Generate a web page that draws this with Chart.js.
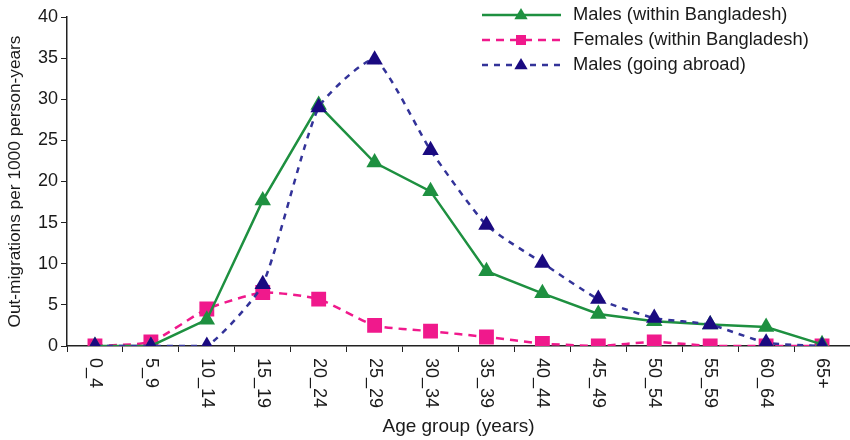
<!DOCTYPE html>
<html>
<head>
<meta charset="utf-8">
<script src="https://cdn.jsdelivr.net/npm/chart.js@4/dist/chart.umd.min.js"></script>
<style>
  html, body { margin: 0; padding: 0; background: #fff; }
  #wrap { width: 850px; height: 440px; }
</style>
</head>
<body>
<div id="wrap"><canvas id="c" width="850" height="440"></canvas></div>
<script>
const categories = ['0_4','5_9','10_14','15_19','20_24','25_29','30_34','35_39','40_44','45_49','50_54','55_59','60_64','65+'];
const malesWithin = [0, 0, 3.2, 17.7, 29.3, 22.3, 18.8, 9.1, 6.4, 3.9, 3.0, 2.6, 2.3, 0.2];
const femalesWithin = [0, 0.5, 4.5, 6.5, 5.7, 2.5, 1.8, 1.1, 0.3, 0, 0.5, 0, 0, 0];
const malesAbroad = [0, 0, 0, 7.5, 29.0, 34.8, 23.8, 14.7, 10.1, 5.7, 3.4, 2.6, 0.4, 0];
const yTicks = [0, 5, 10, 15, 20, 25, 30, 35, 40];
const seriesNames = ['Males (within Bangladesh)', 'Females (within Bangladesh)', 'Males (going abroad)'];

const FONT = '"Liberation Sans", Arial, sans-serif';
const GREEN = '#1e9040';
const PINK = '#f0198c';
const NAVY = '#1a0a80';
const BLUE_LINE = '#333399';

const rotatedLabels = {
  id: 'rotatedLabels',
  afterDraw(chart) {
    const ctx = chart.ctx;
    const xs = chart.scales.x;
    ctx.save();
    ctx.font = '18px ' + FONT;
    ctx.fillStyle = '#1a1a1a';
    ctx.textAlign = 'left';
    ctx.textBaseline = 'middle';
    categories.forEach((lab, i) => {
      const x = xs.getPixelForValue(i);
      ctx.save();
      ctx.translate(x, chart.chartArea.bottom + 12);
      ctx.rotate(Math.PI / 2);
      ctx.fillText(lab, 0, 0);
      ctx.restore();
    });
    ctx.restore();
  }
};

function drawMarker(ctx, style, x, y, r, color) {
  ctx.fillStyle = color;
  ctx.beginPath();
  if (style === 'triangle') {
    ctx.moveTo(x, y - r);
    ctx.lineTo(x + r * 0.95, y + r * 0.6);
    ctx.lineTo(x - r * 0.95, y + r * 0.6);
    ctx.closePath();
  } else {
    ctx.rect(x - r, y - r, 2 * r, 2 * r);
  }
  ctx.fill();
}

const customLegend = {
  id: 'customLegend',
  afterDraw(chart) {
    const ctx = chart.ctx;
    const items = [
      { name: seriesNames[0], color: GREEN, mcolor: GREEN, dash: [], style: 'triangle', mr: 7 },
      { name: seriesNames[1], color: PINK, mcolor: PINK, dash: [8, 6], style: 'rect', mr: 5 },
      { name: seriesNames[2], color: BLUE_LINE, mcolor: NAVY, dash: [6, 6], style: 'triangle', mr: 7 }
    ];
    ctx.save();
    items.forEach((it, i) => {
      const y = 15 + i * 25;
      ctx.strokeStyle = it.color;
      ctx.lineWidth = 2.5;
      ctx.setLineDash(it.dash);
      ctx.beginPath();
      ctx.moveTo(482, y);
      ctx.lineTo(561, y);
      ctx.stroke();
      ctx.setLineDash([]);
      drawMarker(ctx, it.style, 521, y, it.mr, it.mcolor);
      ctx.font = '18.3px ' + FONT;
      ctx.fillStyle = '#1a1a1a';
      ctx.textAlign = 'left';
      ctx.textBaseline = 'middle';
      ctx.fillText(it.name, 573, y);
    });
    ctx.restore();
  }
};

new Chart(document.getElementById('c'), {
  type: 'line',
  data: {
    labels: categories,
    datasets: [
      {
        label: seriesNames[2],
        data: malesAbroad,
        borderColor: BLUE_LINE,
        backgroundColor: NAVY,
        borderWidth: 2.5,
        borderDash: [6, 6],
        tension: 0.18,
        pointStyle: 'triangle',
        pointRadius: 9.5,
        pointBorderWidth: 0,
        pointBackgroundColor: NAVY,
        order: 1
      },
      {
        label: seriesNames[1],
        data: femalesWithin,
        borderColor: PINK,
        backgroundColor: PINK,
        borderWidth: 2.5,
        borderDash: [8, 6],
        tension: 0.18,
        pointStyle: 'rect',
        pointRadius: 10.5,
        pointBorderWidth: 0,
        pointBackgroundColor: PINK,
        order: 3
      },
      {
        label: seriesNames[0],
        data: malesWithin,
        borderColor: GREEN,
        backgroundColor: GREEN,
        borderWidth: 2.5,
        tension: 0,
        pointStyle: 'triangle',
        pointRadius: 9.5,
        pointBorderWidth: 0,
        pointBackgroundColor: GREEN,
        order: 2
      }
    ]
  },
  options: {
    responsive: false,
    animation: false,
    devicePixelRatio: 1,
    layout: { autoPadding: false, padding: { top: 17, right: 0, left: 0, bottom: 0 } },
    plugins: {
      legend: { display: false },
      tooltip: { enabled: false }
    },
    scales: {
      x: {
        type: 'category',
        offset: true,
        grid: { display: true, drawOnChartArea: false, offset: true, tickLength: 6, color: '#222', lineWidth: 1 },
        border: { display: true, color: '#222', width: 1.5 },
        ticks: { callback: () => '', padding: 0, font: { size: 16, family: FONT } },
        title: { display: true, text: 'Age group (years)', color: '#1a1a1a', font: { size: 19, family: FONT }, padding: { top: 0, bottom: 2 } },
        afterFit(scale) { scale.height = 94; scale.paddingRight = 0; scale.paddingLeft = 0; }
      },
      y: {
        min: 0,
        max: 40,
        afterBuildTicks(scale) { scale.ticks = yTicks.map(v => ({ value: v })); },
        grid: { display: true, drawOnChartArea: false, tickLength: 6, color: '#222', lineWidth: 1 },
        border: { display: true, color: '#222', width: 1.5 },
        ticks: { color: '#1a1a1a', padding: 3, font: { size: 18, family: FONT } },
        title: { display: true, text: 'Out-migrations per 1000 person-years', color: '#1a1a1a', font: { size: 17.3, family: FONT }, padding: { top: 5, bottom: 2 } },
        afterFit(scale) { scale.width = 67; }
      }
    }
  },
  plugins: [rotatedLabels, customLegend]
});
</script>
</body>
</html>
